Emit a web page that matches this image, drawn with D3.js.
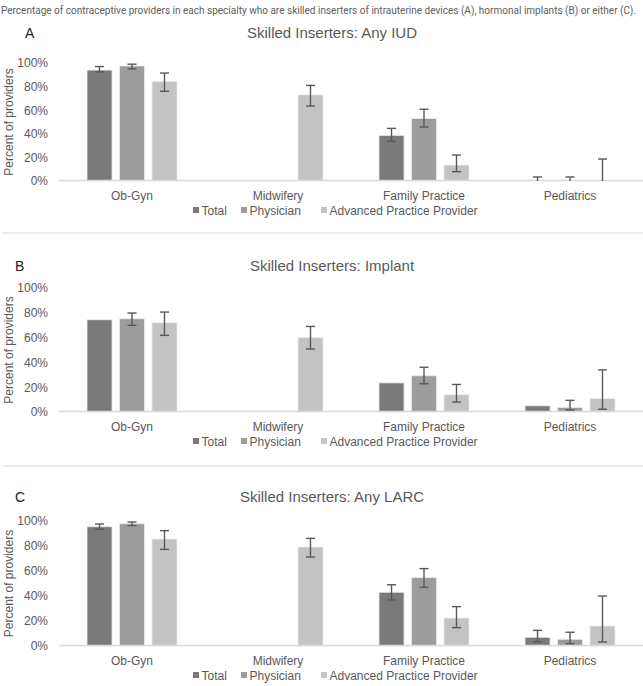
<!DOCTYPE html>
<html>
<head>
<meta charset="utf-8">
<script src="https://cdn.jsdelivr.net/npm/d3@7"></script>
<style>
  body { margin: 0; background: #fff; }
  svg { display: block; }
  text { font-family: "Liberation Sans", Arial, sans-serif; fill: #595959; }
</style>
</head>
<body>
<svg id="chart" width="643" height="686"></svg>
<script>
(function () {
  const categories = ['Ob-Gyn', 'Midwifery', 'Family Practice', 'Pediatrics'];
  const series = ['Total', 'Physician', 'Advanced Practice Provider'];
  const yTicks = [0, 20, 40, 60, 80, 100];

  // values per series, in category order (null = no bar)
  const iudValues = [[94, null, 38.7, 0], [97.5, null, 53, 0], [84.5, 73, 13.5, 0]];
  const iudLow = [[92.5, null, 33.6, 0], [95, null, 45.8, 0], [76, 63.5, 7.9, 0]];
  const iudHigh = [[97, null, 44.6, 3.4], [99, null, 60.8, 3.4], [91.5, 81, 22, 18.6]];

  const implantValues = [[74.4, null, 23.5, 5], [75.2, null, 29.2, 3.7], [72, 60, 13.9, 11]];
  const implantLow = [[null, null, null, null], [69.9, null, 22.8, 1.6], [61.8, 50.8, 8, 2.2]];
  const implantHigh = [[null, null, null, null], [79.8, null, 36.1, 9.4], [80.6, 69, 22.2, 34]];

  const larcValues = [[95.4, null, 43, 7], [97.8, null, 54.7, 5.4], [85.6, 79.2, 22.4, 16]];
  const larcLow = [[93.4, null, 36.8, 3.2], [96.3, null, 47, 1.9], [77.3, 71.2, 14.7, 3.2]];
  const larcHigh = [[97.6, null, 49, 12.5], [99.2, null, 61.9, 11], [92.3, 86.1, 31.5, 40]];

  const COLORS = ['#7a7a7a', '#9c9c9c', '#c3c3c3'];
  const ERR_COLOR = '#595959';
  const PLOT_LEFT = 59;
  const PLOT_RIGHT = 643;

  const panels = [
    { letter: 'A', title: 'Skilled Inserters: Any IUD', top: 63, bottom: 181, titleY: 38, letterX: 25,
      values: iudValues, low: iudLow, high: iudHigh },
    { letter: 'B', title: 'Skilled Inserters: Implant', top: 288, bottom: 412, titleY: 271, letterX: 15,
      values: implantValues, low: implantLow, high: implantHigh },
    { letter: 'C', title: 'Skilled Inserters: Any LARC', top: 521, bottom: 646, titleY: 502, letterX: 15,
      values: larcValues, low: larcLow, high: larcHigh },
  ];
  const separators = [233, 466];

  const svg = d3.select('#chart');

  svg.append('text')
    .attr('x', 1)
    .attr('y', 14)
    .attr('textLength', 635)
    .attr('lengthAdjust', 'spacingAndGlyphs')
    .style('font-family', '"Liberation Sans Narrow", "Roboto", sans-serif')
    .style('font-size', '11px')
    .style('fill', '#606060')
    .text('Percentage of contraceptive providers in each specialty who are skilled inserters of intrauterine devices (A), hormonal implants (B) or either (C).');

  separators.forEach(y => {
    svg.append('line')
      .attr('x1', 3).attr('x2', 643)
      .attr('y1', y).attr('y2', y)
      .attr('stroke', '#d9d9d9')
      .attr('stroke-width', 1);
  });

  const x0 = d3.scaleBand()
    .domain(categories)
    .range([PLOT_LEFT, PLOT_RIGHT]);

  const mid = x0.bandwidth() / 2;
  const x1 = d3.scaleBand()
    .domain(series)
    .range([mid - 45, mid + 45])
    .paddingInner(0.23);

  const drawPanel = (p) => {
    const g = svg.append('g');

    const y = d3.scaleLinear()
      .domain([0, 100])
      .range([p.bottom, p.top]);

    g.append('text')
      .attr('x', p.letterX)
      .attr('y', p.titleY)
      .style('font-size', '14px')
      .style('fill', '#222')
      .text(p.letter);

    g.append('text')
      .attr('x', 332)
      .attr('y', p.titleY)
      .attr('text-anchor', 'middle')
      .style('font-size', '15px')
      .text(p.title);

    // y axis (no line, just labels)
    const yAxis = d3.axisLeft(y)
      .tickValues(yTicks)
      .tickFormat(d => d + '%')
      .tickSize(0)
      .tickPadding(11);
    const yAxisGroup = g.append('g')
      .attr('transform', `translate(${PLOT_LEFT}, 0)`)
      .call(yAxis);
    yAxisGroup.select('.domain').remove();
    yAxisGroup.selectAll('text')
      .style('font-size', '12px')
      .style('font-family', '"Liberation Sans", Arial, sans-serif')
      .attr('fill', '#595959');

    g.append('text')
      .attr('transform', `translate(13, ${(p.top + p.bottom) / 2}) rotate(-90)`)
      .attr('text-anchor', 'middle')
      .style('font-size', '12px')
      .text('Percent of providers');

    // bars
    series.forEach((s, si) => {
      categories.forEach((c, ci) => {
        const v = p.values[si][ci];
        if (v === null) return;
        g.append('rect')
          .attr('x', x0(c) + x1(s))
          .attr('y', y(v))
          .attr('width', x1.bandwidth())
          .attr('height', y(0) - y(v))
          .attr('fill', COLORS[si])
          .attr('stroke', '#ededed')
          .attr('stroke-width', 0.8);
      });
    });

    // x axis line
    g.append('line')
      .attr('x1', PLOT_LEFT).attr('x2', PLOT_RIGHT)
      .attr('y1', y(0) - 0.5).attr('y2', y(0) - 0.5)
      .attr('stroke', '#d9d9d9')
      .attr('stroke-width', 1.3);

    // error bars
    series.forEach((s, si) => {
      categories.forEach((c, ci) => {
        const lo = p.low[si][ci];
        const hi = p.high[si][ci];
        if (lo === null || hi === null) return;
        const cx = x0(c) + x1(s) + x1.bandwidth() / 2;
        const eg = g.append('g')
          .attr('stroke', ERR_COLOR)
          .attr('stroke-width', 1.4);
        eg.append('line')
          .attr('x1', cx).attr('x2', cx)
          .attr('y1', y(lo)).attr('y2', y(hi));
        eg.append('line')
          .attr('x1', cx - 4.5).attr('x2', cx + 4.5)
          .attr('y1', y(hi)).attr('y2', y(hi));
        if (lo > 0) {
          eg.append('line')
            .attr('x1', cx - 4.5).attr('x2', cx + 4.5)
            .attr('y1', y(lo)).attr('y2', y(lo));
        }
      });
    });

    // category labels
    categories.forEach(c => {
      g.append('text')
        .attr('x', x0(c) + mid)
        .attr('y', p.bottom + 19)
        .attr('text-anchor', 'middle')
        .style('font-size', '12px')
        .text(c);
    });

    // legend
    const legendX = [193, 241, 321];
    const legendY = p.bottom + 34;
    series.forEach((s, si) => {
      g.append('rect')
        .attr('x', legendX[si])
        .attr('y', legendY - 8)
        .attr('width', 6)
        .attr('height', 6)
        .attr('fill', COLORS[si]);
      g.append('text')
        .attr('x', legendX[si] + 8.5)
        .attr('y', legendY)
        .style('font-size', '12px')
        .text(s);
    });
  };

  panels.forEach(drawPanel);
})();
</script>
</body>
</html>
